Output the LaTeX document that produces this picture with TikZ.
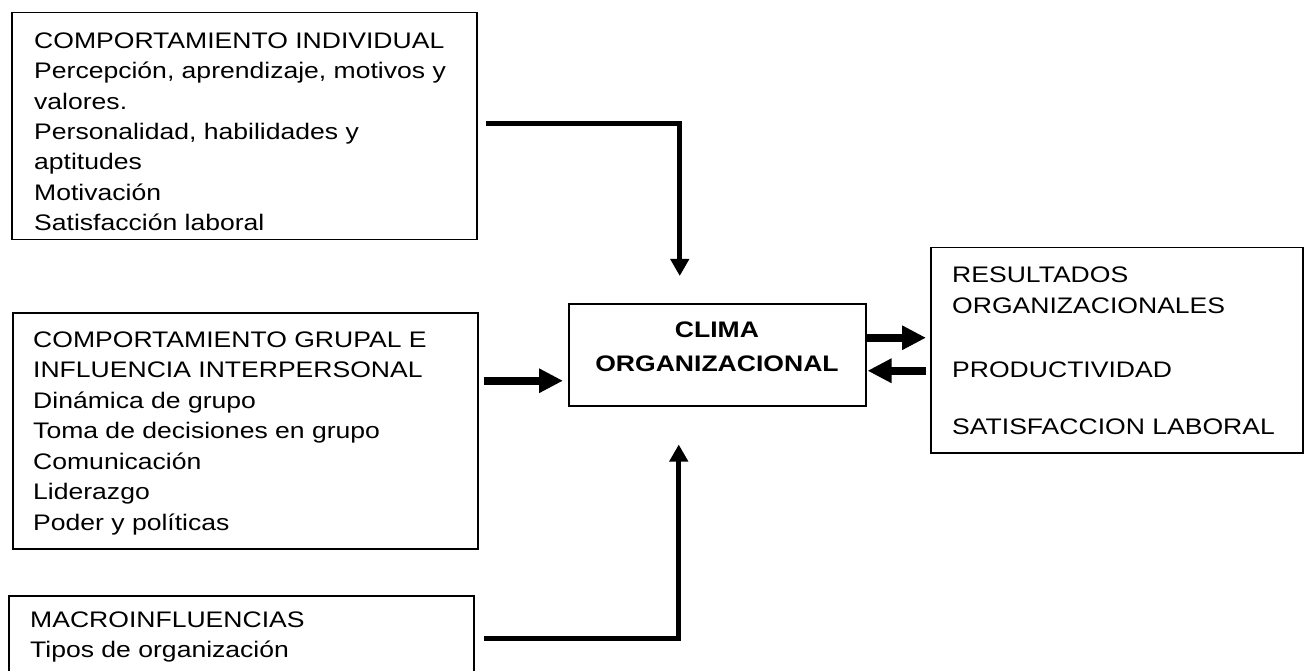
\documentclass[tikz,border=0pt]{standalone}
\usepackage{fontspec}
\setmainfont{Liberation Sans}[FakeStretch=1.18]
\usetikzlibrary{arrows.meta,calc}
\begin{document}
\begin{tikzpicture}[x=1pt,y=-1pt,
  box/.style={draw, line width=1.5pt, rectangle, inner sep=0pt, anchor=north west},
  % multi-line text: the base anchor sits on the last line's baseline
  txt/.style={align=left, inner sep=0pt, anchor=base west,
              font=\fontsize{22.5pt}{30.5pt}\selectfont},
  slimarrow/.style={line width=5pt, line join=miter,
                    -{Triangle[length=17pt,width=18pt]}},
  fatarrow/.style={line width=7.5pt, -{Triangle[length=24pt,width=23pt]}}
]
\useasboundingbox (0,0) rectangle (1304,671);
\clip (0,0) rectangle (1304,671);

% frames
\node[box, minimum width=465pt, minimum height=227pt] (ind)   at (11,12)  {};
\node[box, minimum width=465pt, minimum height=236pt] (grp)   at (12,312) {};
\node[box, minimum width=465pt, minimum height=100pt] (mac)   at (8,595)  {};
\node[box, minimum width=297pt, minimum height=102pt] (clima) at (568,303) {};
\node[box, minimum width=372pt, minimum height=205pt] (res)   at (930,247) {};

% contents
\node[txt] (indtxt) at (34,231) {COMPORTAMIENTO INDIVIDUAL\\
  Percepción, aprendizaje, motivos y\\valores.\\Personalidad, habilidades y\\
  aptitudes\\Motivación\\Satisfacción laboral};
\node[txt] (grptxt) at (33,530) {COMPORTAMIENTO GRUPAL E\\INFLUENCIA INTERPERSONAL\\
  Dinámica de grupo\\Toma de decisiones en grupo\\Comunicación\\Liderazgo\\
  Poder y políticas};
\node[txt] (mactxt) at (30,657.5) {MACROINFLUENCIAS\\Tipos de organización};
\node[txt] (restxt) at (952,434) {RESULTADOS\\ORGANIZACIONALES\\[33.5pt]
  PRODUCTIVIDAD\\[26.5pt]SATISFACCION LABORAL};
\node[align=center, inner sep=0pt, anchor=base,
      font=\bfseries\fontsize{22.5pt}{34pt}\selectfont]
  (climatxt) at (717,371) {CLIMA\\ORGANIZACIONAL};

% connectors
\draw[slimarrow] ($(ind.east)+(8,-2.5)$) -| ($(clima.north)+(-37.5,-27)$);
\draw[fatarrow]  ($(grp.east)+(5,-50)$) -- ($(clima.west)+(-5,26)$);
\draw[slimarrow] ($(mac.east)+(9,-7)$) -| ($(clima.south)+(-38.5,38)$);
\draw[fatarrow]  ($(clima.east)+(0,-17)$) -- ($(res.west)+(-4,-12.5)$);
\draw[fatarrow]  ($(res.west)+(-4,20.5)$) -- ($(clima.east)+(1,16)$);
\end{tikzpicture}
\end{document}
